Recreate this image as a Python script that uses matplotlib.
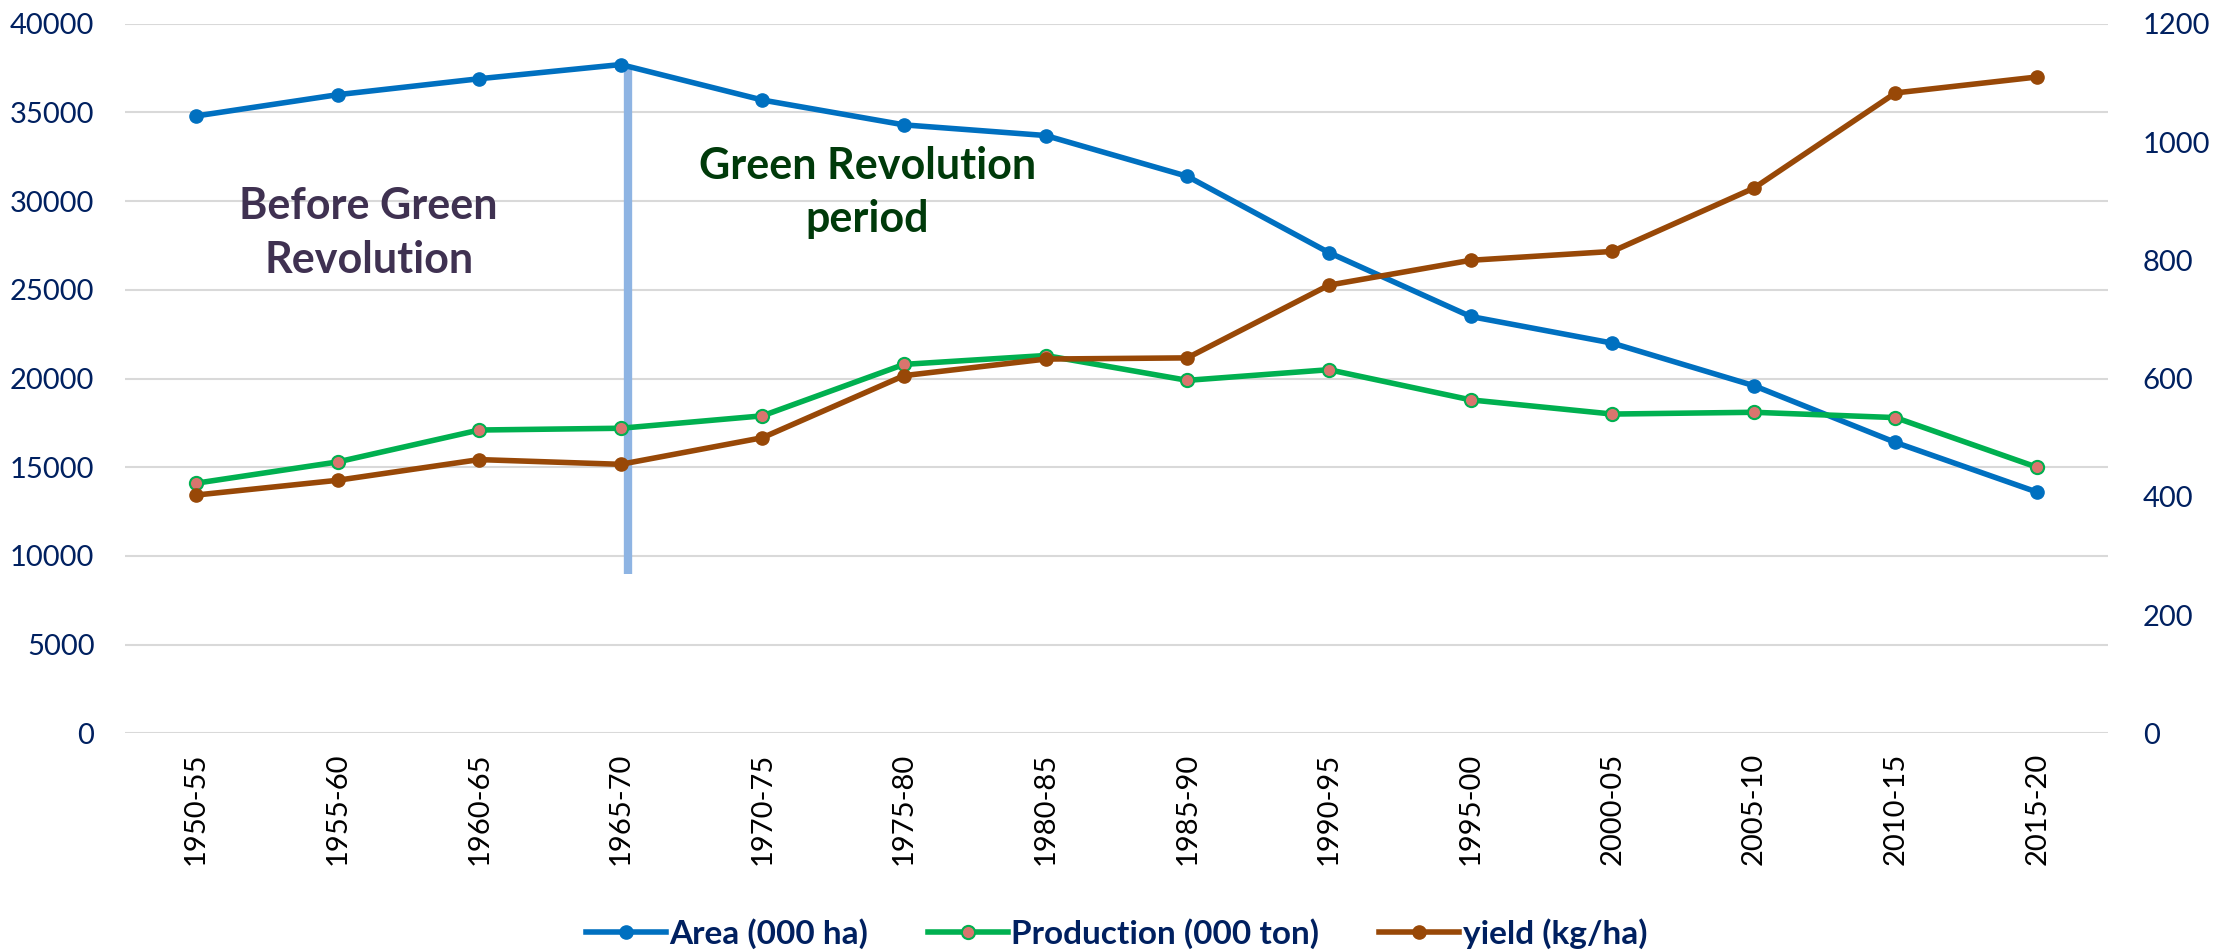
import matplotlib
matplotlib.use("Agg")
import matplotlib.pyplot as plt
from matplotlib.lines import Line2D

plt.rcParams['font.family'] = ['Lato', 'DejaVu Sans']

periods = ["1950-55", "1955-60", "1960-65", "1965-70", "1970-75", "1975-80", "1980-85",
           "1985-90", "1990-95", "1995-00", "2000-05", "2005-10", "2010-15", "2015-20"]
area = [34800, 36000, 36900, 37700, 35700, 34300, 33700, 31400, 27100, 23500, 22000, 19600, 16400, 13600]
production = [14100, 15300, 17100, 17200, 17900, 20800, 21300, 19900, 20500, 18800, 18000, 18100, 17800, 15000]
yield_ = [403, 428, 463, 455, 500, 605, 633, 635, 758, 800, 815, 922, 1083, 1110]

left_ticks = list(range(0, 40001, 5000))
right_ticks = list(range(0, 1201, 200))

navy = "#002060"
c_area = "#0070C0"
c_prod = "#00B050"
c_prod_face = "#D9756E"
c_yield = "#984807"

fig = plt.figure(figsize=(22.33, 9.5), dpi=100)
ax = fig.add_axes([0.056, 0.228, 0.888, 0.747])
ax2 = ax.twinx()

x = list(range(len(periods)))
ax.plot(x, area, color=c_area, lw=4, marker='o', ms=9.5, mfc=c_area, mec=c_area, zorder=5)
ax.plot(x, production, color=c_prod, lw=4, marker='o', ms=9.5, mfc=c_prod_face, mec=c_prod, mew=1.5, zorder=5)
ax2.plot(x, yield_, color=c_yield, lw=4, marker='o', ms=9.5, mfc=c_yield, mec=c_yield, zorder=5)

ax.set_xlim(-0.5, len(periods) - 0.5)
ax.set_ylim(0, 40000)
ax2.set_ylim(0, 1200)
ax.set_yticks(left_ticks)
ax.set_yticklabels([str(t) for t in left_ticks])
ax2.set_yticks(right_ticks)
ax2.set_yticklabels([str(t) for t in right_ticks])
ax.set_xticks(x)
ax.set_xticklabels(periods, rotation=90)

ax.grid(axis='y', color='#D9D9D9', lw=1.5)
ax.set_axisbelow(True)
for a in (ax, ax2):
    for s in a.spines.values():
        s.set_visible(False)
ax.tick_params(axis='y', length=0, pad=22, labelsize=21, labelcolor=navy)
ax2.tick_params(axis='y', length=0, pad=25, labelsize=21, labelcolor=navy)
ax.tick_params(axis='x', length=0, pad=14, labelsize=21, labelcolor='black')

# Green revolution marker line
ax.plot([3.05, 3.05], [9000, 37500], color="#8EB4E3", lw=6, solid_capstyle='butt', zorder=4)

ax.text(1.22, 28200, "Before Green\nRevolution", ha='center', va='center', fontsize=31,
        fontweight='bold', color="#3F3151", linespacing=1.4, zorder=6)
ax.text(4.74, 30500, "Green Revolution\nperiod", ha='center', va='center', fontsize=31,
        fontweight='bold', color="#003A0A", linespacing=1.4, zorder=6)

handles = [
    Line2D([], [], color=c_area, lw=4, marker='o', ms=9.5, mfc=c_area, mec=c_area),
    Line2D([], [], color=c_prod, lw=4, marker='o', ms=9.5, mfc=c_prod_face, mec=c_prod, mew=1.5),
    Line2D([], [], color=c_yield, lw=4, marker='o', ms=9.5, mfc=c_yield, mec=c_yield),
]
labels = ["Area (000 ha)", "Production (000 ton)", "yield (kg/ha)"]
leg = fig.legend(handles, labels, loc='center', bbox_to_anchor=(0.5, 0.017), ncol=3,
                 frameon=False, handlelength=2.4, handletextpad=0.1, columnspacing=1.8,
                 prop={'size': 24, 'weight': 'bold'})
for t in leg.get_texts():
    t.set_color(navy)

fig.savefig("out.png", dpi=100)
